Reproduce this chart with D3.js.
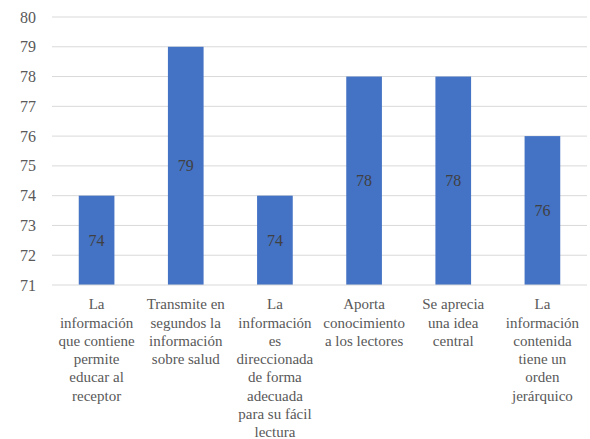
<!DOCTYPE html>
<html><head><meta charset="utf-8">
<script src="https://cdn.jsdelivr.net/npm/d3@7"></script>
<style>body{margin:0;background:#fff}svg{display:block}text,tspan{font-family:"Liberation Serif","Times New Roman",Tinos,serif !important}</style>
</head><body><svg id="c" width="590" height="439" font-family="Liberation Serif"></svg>
<script>
const categories = [
  "La\ninformación\nque contiene\npermite\neducar al\nreceptor",
  "Transmite en\nsegundos la\ninformación\nsobre salud",
  "La\ninformación\nes\ndireccionada\nde forma\nadecuada\npara su fácil\nlectura",
  "Aporta\nconocimiento\na los lectores",
  "Se aprecia\nuna idea\ncentral",
  "La\ninformación\ncontenida\ntiene un\norden\njerárquico"
];
const values = [74, 79, 74, 78, 78, 76];
const yTicks = [71, 72, 73, 74, 75, 76, 77, 78, 79, 80];

(function() {
const svg = d3.select("#c");
const FF = "Liberation Serif";
const mLeft = 52, mRight = 587, mTop = 17, mBottom = 285;
const x = d3.scaleBand().domain(d3.range(categories.length)).range([mLeft, mRight]).paddingInner(0.6).paddingOuter(0.3);
const y = d3.scaleLinear().domain([71, 80]).range([mBottom, mTop]);

svg.append("g").selectAll("line").data(yTicks.slice(1)).join("line")
  .attr("x1", mLeft).attr("x2", mRight)
  .attr("y1", d => y(d)).attr("y2", d => y(d))
  .attr("stroke", "#d9d9d9").attr("stroke-width", 1);

svg.append("g").selectAll("text").data(yTicks).join("text")
  .attr("x", 36).attr("y", d => y(d)).attr("dy", "0.35em")
  .attr("text-anchor", "end").attr("font-size", 16).attr("font-family", FF)
  .attr("fill", "#595959").text(d => d);

svg.append("g").selectAll("rect").data(values).join("rect")
  .attr("x", (d, i) => x(i)).attr("width", x.bandwidth())
  .attr("y", d => y(d)).attr("height", d => y(71) - y(d))
  .attr("fill", "#4472C4");

svg.append("line").attr("x1", mLeft).attr("x2", mRight)
  .attr("y1", y(71)).attr("y2", y(71)).attr("stroke", "#d9d9d9").attr("stroke-width", 1);

svg.append("g").selectAll("text").data(values).join("text")
  .attr("x", (d, i) => x(i) + x.bandwidth() / 2)
  .attr("y", d => (y(d) + y(71)) / 2).attr("dy", "0.35em")
  .attr("text-anchor", "middle").attr("font-size", 16).attr("font-family", FF)
  .attr("fill", "#404040").text(d => d);

const cg = svg.append("g").selectAll("text").data(categories).join("text")
  .attr("text-anchor", "middle").attr("font-size", 15).attr("font-family", FF)
  .attr("fill", "#595959");
cg.each(function(d, i) {
  const cx = x(i) + x.bandwidth() / 2;
  d3.select(this).selectAll("tspan").data(d.split("\n")).join("tspan")
    .attr("x", cx).attr("y", (t, j) => 304 + j * 18.3).attr("dy", "0.35em").text(t => t);
});
})();
</script></body></html>
